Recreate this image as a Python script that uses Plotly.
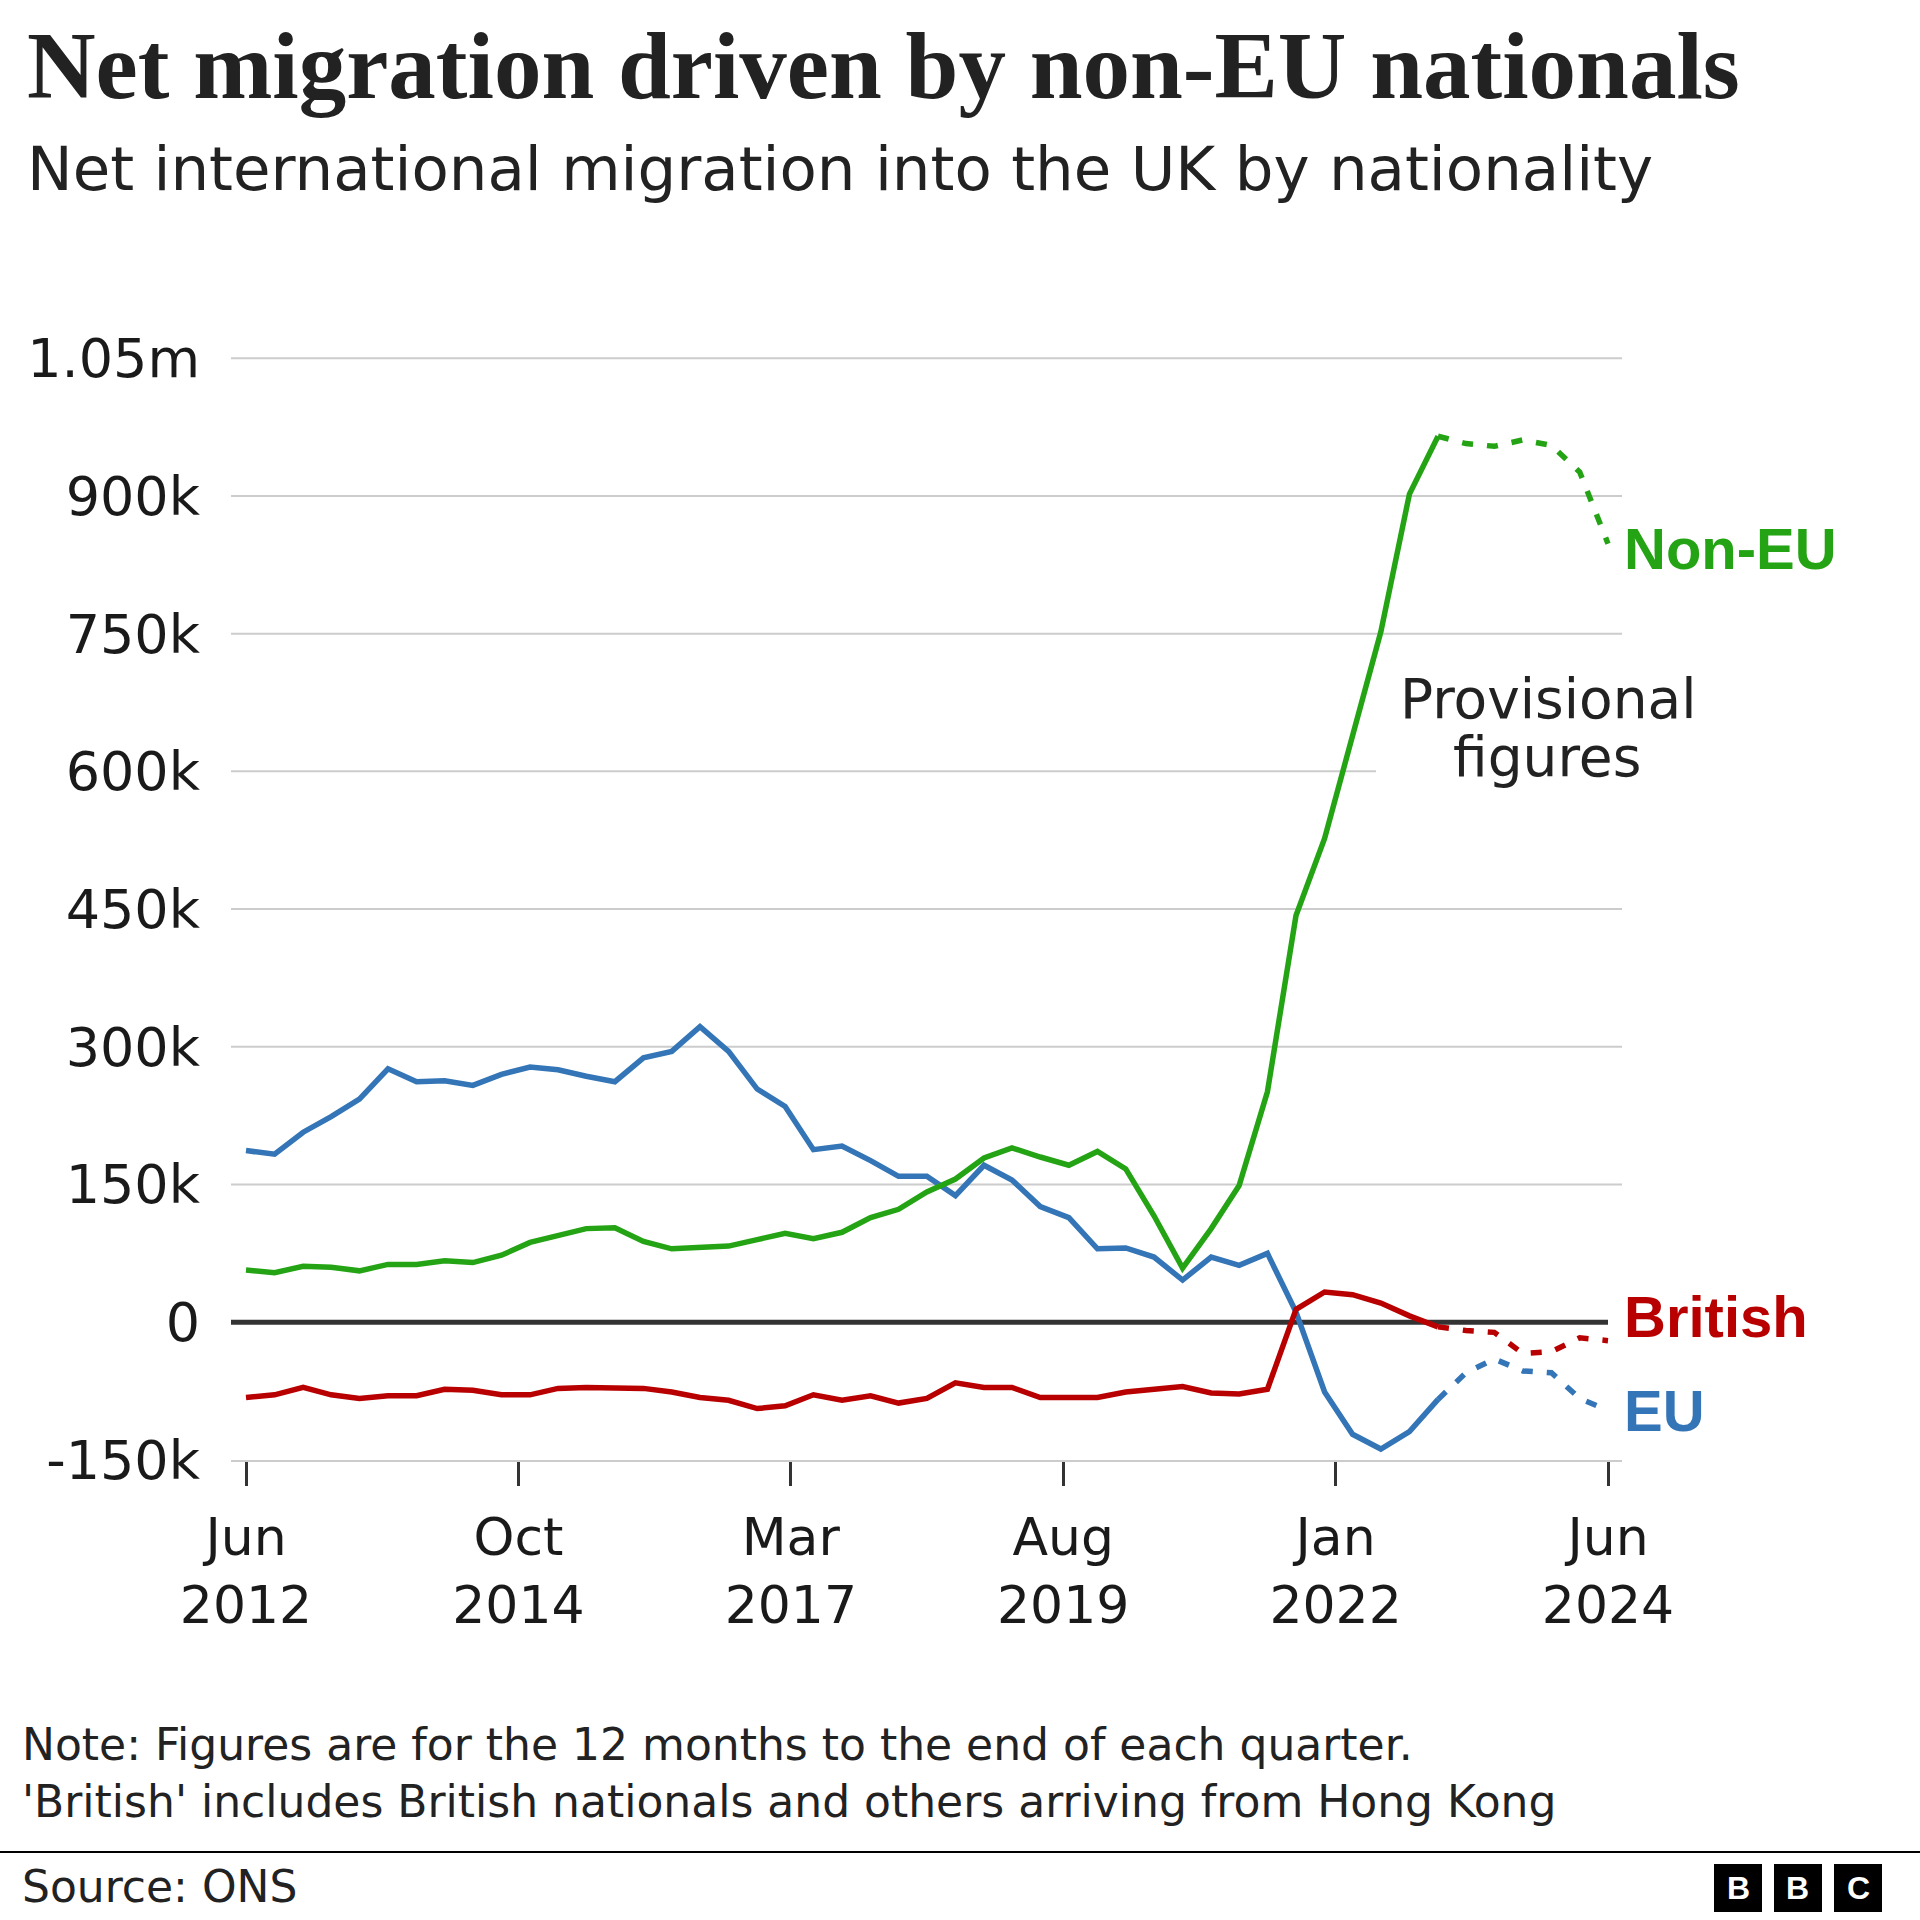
import pandas as pd
import plotly.graph_objects as go

# ---------------- data (thousands) ----------------
try:
    quarters = pd.date_range("2012-06-30", "2024-06-30", freq="QE")
except Exception:
    quarters = pd.date_range("2012-06-30", "2024-06-30", freq="Q")

non_eu = [57, 54, 61, 60, 56, 63, 63, 67, 65, 73,
          87, 94, 102, 103, 88, 80, 82, 83, 90, 97,
          91, 98, 114, 123, 142, 156, 179, 190, 180, 171,
          186, 167, 116, 59, 102, 149, 251, 443, 527, 640,
          752, 902, 965, 957, 954, 961, 955, 926, 848]
eu = [187, 183, 207, 224, 243, 276, 262, 263, 258, 270,
      278, 275, 268, 262, 288, 295, 322, 295, 254, 235,
      188, 192, 176, 159, 159, 138, 171, 155, 126, 114,
      80, 81, 71, 46, 71, 62, 75, 11, -76, -122,
      -138, -119, -84, -55, -40, -53, -55, -83, -96]
british = [-82, -79, -71, -79, -83, -80, -80, -73, -74, -79,
           -79, -72, -71, -71, -72, -76, -82, -85, -94, -91,
           -79, -85, -80, -88, -83, -66, -71, -71, -82, -82,
           -82, -76, -73, -70, -77, -78, -73, 14, 33, 30,
           21, 7, -5, -9, -11, -34, -32, -17, -20]
provisional_start = 42  # index of first point of the provisional (dotted) section

y_ticks = [-150, 0, 150, 300, 450, 600, 750, 900, 1050]
y_labels = ["-150k", "0", "150k", "300k", "450k", "600k", "750k", "900k", "1.05m"]
x_labels = ["Jun<br>2012", "Oct<br>2014", "Mar<br>2017", "Aug<br>2019", "Jan<br>2022", "Jun<br>2024"]

series = [
    ("EU", eu, "#3375b6"),
    ("Non-EU", non_eu, "#24a414"),
    ("British", british, "#b80000"),
]

# ---------------- layout geometry ----------------
W_FIG, H_FIG = 1920, 1920
L, R, T, B = 231, 298, 349, 460
PW = W_FIG - L - R
PH = H_FIG - T - B


def px_x(x):
    return (x - L) / PW


def px_y(y):
    return (H_FIG - B - y) / PH


t0, t1 = quarters[0], quarters[-1]
span = t1 - t0
x_range = [t0 - span * (15 / 1362), t1 + span * (14 / 1362)]
tickvals = [t0 + span * (k / 5) for k in range(6)]

SANS = "DejaVu Sans"
LABEL = "Liberation Sans"
LW = 5.5

fig = go.Figure()
for name, vals, color in series:
    fig.add_trace(go.Scatter(
        x=quarters[:provisional_start + 1], y=vals[:provisional_start + 1],
        mode="lines", line=dict(color=color, width=LW), name=name, showlegend=False,
        hoverinfo="skip"))
    fig.add_trace(go.Scatter(
        x=quarters[provisional_start:], y=vals[provisional_start:],
        mode="lines", line=dict(color=color, width=LW, dash="11px,14px"),
        name=name + " provisional", showlegend=False, hoverinfo="skip"))

shapes = []
for v in y_ticks:
    if v > 0:
        shapes.append(dict(type="line", xref="paper", yref="y", x0=0,
                           x1=px_x(1376) if v == 600 else 1, y0=v, y1=v,
                           line=dict(color="#cccccc", width=2), layer="below"))
shapes.append(dict(type="line", xref="x", yref="y", x0=x_range[0], x1=t1, y0=0, y1=0,
                   line=dict(color="#333333", width=5), layer="below"))
# footer separator
shapes.append(dict(type="line", xref="paper", yref="paper", x0=px_x(0), x1=px_x(1920),
                   y0=px_y(1852), y1=px_y(1852), line=dict(color="#000000", width=2)))
# BBC blocks
for x0 in (1714, 1774, 1834):
    shapes.append(dict(type="rect", xref="paper", yref="paper", x0=px_x(x0), x1=px_x(x0 + 48),
                       y0=px_y(1912), y1=px_y(1864), fillcolor="#000000", line=dict(width=0)))

ann = []


def add_text(text, x, y, size, color="#222222", family=SANS, anchor="left", bold=False):
    ann.append(dict(text=("<b>%s</b>" % text) if bold else text, x=px_x(x), y=px_y(y),
                    xref="paper", yref="paper", xanchor=anchor, yanchor="middle",
                    showarrow=False, font=dict(family=family, size=size, color=color)))


add_text("Net migration driven by non-EU nationals", 25, 66, 95, "#222222",
         family="Liberation Serif", bold=True)
add_text("Net international migration into the UK by nationality", 25, 168, 61, "#222222")
add_text("Provisional", 1548, 699, 55, anchor="center")
add_text("figures", 1547, 757, 55, anchor="center")
add_text("Non-EU", 1622, 548, 58, "#24a414", family=LABEL, bold=True)
add_text("British", 1622, 1316, 58, "#b80000", family=LABEL, bold=True)
add_text("EU", 1622, 1410, 58, "#3375b6", family=LABEL, bold=True)
add_text("Note: Figures are for the 12 months to the end of each quarter.", 20, 1745, 44)
add_text("'British' includes British nationals and others arriving from Hong Kong", 20, 1801, 44)
add_text("Source: ONS", 20, 1886, 44)
for x0, letter in zip((1714, 1774, 1834), "BBC"):
    add_text(letter, x0 + 24, 1888, 32, "#ffffff", family=LABEL, anchor="center", bold=True)

fig.update_layout(
    width=W_FIG, height=H_FIG,
    margin=dict(l=L, r=R, t=T, b=B),
    paper_bgcolor="#ffffff", plot_bgcolor="#ffffff",
    shapes=shapes, annotations=ann, showlegend=False,
    xaxis=dict(type="date", range=x_range, showgrid=False, zeroline=False,
               showline=True, linecolor="#cccccc", linewidth=2,
               ticks="outside", ticklen=24, tickwidth=2.5, tickcolor="#333333",
               tickvals=tickvals, ticktext=x_labels, ticklabelstandoff=7,
               tickfont=dict(family=SANS, size=52, color="#1a1a1a")),
    yaxis=dict(range=[-150, 1060], showgrid=False, zeroline=False, showline=False,
               ticks="", tickvals=y_ticks, ticktext=y_labels, ticklabelstandoff=30,
               tickfont=dict(family=SANS, size=54, color="#1a1a1a")),
)

fig.write_html("out.html")
